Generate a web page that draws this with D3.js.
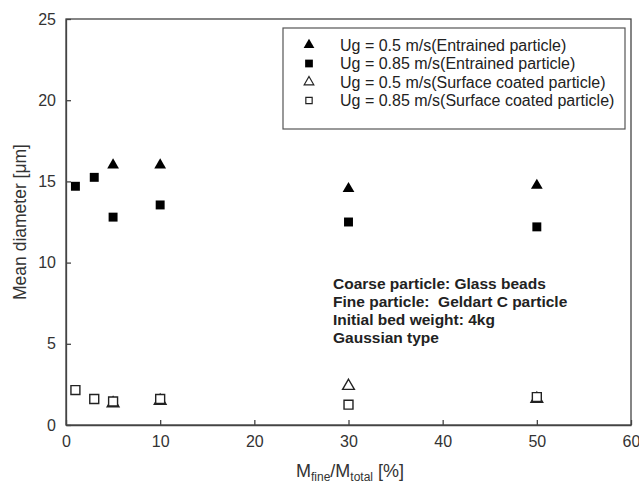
<!DOCTYPE html>
<html><head><meta charset="utf-8">
<script src="https://cdn.jsdelivr.net/npm/d3@7"></script>
<style>body{margin:0;background:#fff;} text{font-family:"Liberation Sans",Arial,sans-serif;}</style>
</head><body>
<svg id="c" width="639" height="490"></svg>
<script>
const xTicks = [0, 10, 20, 30, 40, 50, 60];
const yTicks = [0, 5, 10, 15, 20, 25];
const triFilledX = [5, 10, 30, 50];
const triFilledY = [16.0, 16.0, 14.55, 14.75];
const sqFilledX = [1, 3, 5, 10, 30, 50];
const sqFilledY = [14.7, 15.25, 12.8, 13.55, 12.5, 12.2];
const triOpenX = [5, 10, 30, 50];
const triOpenY = [1.33, 1.48, 2.4, 1.6];
const sqOpenX = [1, 3, 5, 10, 30, 50];
const sqOpenY = [2.15, 1.6, 1.45, 1.6, 1.25, 1.72];
const legendLabels = ["Ug = 0.5 m/s(Entrained particle)", "Ug = 0.85 m/s(Entrained particle)", "Ug = 0.5 m/s(Surface coated particle)", "Ug = 0.85 m/s(Surface coated particle)"];
const notes = ["Coarse particle: Glass beads", "Fine particle:  Geldart C particle", "Initial bed weight: 4kg", "Gaussian type"];

const svg = d3.select("#c");
const L = 66, R = 631, T = 19, B = 425;
const x = d3.scaleLinear().domain([0, 60]).range([L, R]);
const y = d3.scaleLinear().domain([0, 25]).range([B, T]);
const ink = "#222";

// frame
svg.append("rect").attr("x", L).attr("y", T).attr("width", R - L).attr("height", B - T)
  .attr("fill", "none").attr("stroke", "#444").attr("stroke-width", 1.3);

const xa = svg.append("g").attr("transform", `translate(0,${B})`)
  .call(d3.axisBottom(x).tickValues(xTicks).tickSizeInner(-5).tickSizeOuter(0).tickPadding(11));
const ya = svg.append("g").attr("transform", `translate(${L},0)`)
  .call(d3.axisLeft(y).tickValues(yTicks).tickSizeInner(-5).tickSizeOuter(0).tickPadding(10));
[xa, ya].forEach(a => {
  a.select(".domain").attr("stroke", "#444").attr("stroke-width", 1.3);
  a.selectAll(".tick line").attr("stroke", "#444").attr("stroke-width", 1.3);
  a.selectAll(".tick text").attr("font-size", 16).attr("fill", "#333")
    .style("font-family", "Liberation Sans, Arial, sans-serif");
});
xa.selectAll(".tick text").attr("dy", "0.71em");

// axis titles
svg.append("text").attr("transform", `translate(26,${(T + B) / 2}) rotate(-90)`)
  .attr("text-anchor", "middle").attr("font-size", 17.5).attr("fill", "#333").text("Mean diameter [\u03bcm]");
const xt = svg.append("text").attr("x", 350).attr("y", 477).attr("text-anchor", "middle")
  .attr("font-size", 18).attr("fill", "#333");
xt.append("tspan").text("M");
xt.append("tspan").attr("font-size", 12).attr("dy", 4).text("fine");
xt.append("tspan").attr("dy", -4).text("/M");
xt.append("tspan").attr("font-size", 12).attr("dy", 4).text("total");
xt.append("tspan").attr("dy", -4).text(" [%]");

// markers
const tri = d3.symbol().type(d3.symbolTriangle).size(60);
const sq = d3.symbol().type(d3.symbolSquare).size(80);
function plot(xs, ys, gen, filled) {
  svg.append("g").selectAll("path").data(xs.map((v, i) => [v, ys[i]])).join("path")
    .attr("d", gen).attr("transform", d => `translate(${x(d[0])},${y(d[1])})`)
    .attr("fill", filled ? "#000" : "#fff").attr("stroke", filled ? "none" : "#222")
    .attr("stroke-width", 1.4);
}
plot(triOpenX, triOpenY, tri, false);
plot(sqOpenX, sqOpenY, sq, false);
plot(sqFilledX, sqFilledY, sq, true);
plot(triFilledX, triFilledY, tri, true);

// legend
svg.append("rect").attr("x", 283).attr("y", 28).attr("width", 342).attr("height", 101)
  .attr("fill", "#fff").attr("stroke", "#555").attr("stroke-width", 1.2);
const lgGens = [d3.symbol().type(d3.symbolTriangle).size(50), d3.symbol().type(d3.symbolSquare).size(60), d3.symbol().type(d3.symbolTriangle).size(40), d3.symbol().type(d3.symbolSquare).size(40)];
const lgFill = [true, true, false, false];
legendLabels.forEach((lab, i) => {
  const cy = 45 + i * 18.5;
  svg.append("path").attr("d", lgGens[i]).attr("transform", `translate(309,${cy})`)
    .attr("fill", lgFill[i] ? "#000" : "none").attr("stroke", lgFill[i] ? "none" : "#222").attr("stroke-width", 1.2);
  svg.append("text").attr("x", 340).attr("y", cy + 5.5).attr("font-size", 16).attr("fill", ink).text(lab);
});

// notes
notes.forEach((t, i) => {
  svg.append("text").attr("x", 333).attr("y", 289 + i * 18).attr("font-size", 15.5)
    .attr("font-weight", "bold").attr("fill", ink).style("white-space", "pre").text(t);
});
</script>
</body></html>
